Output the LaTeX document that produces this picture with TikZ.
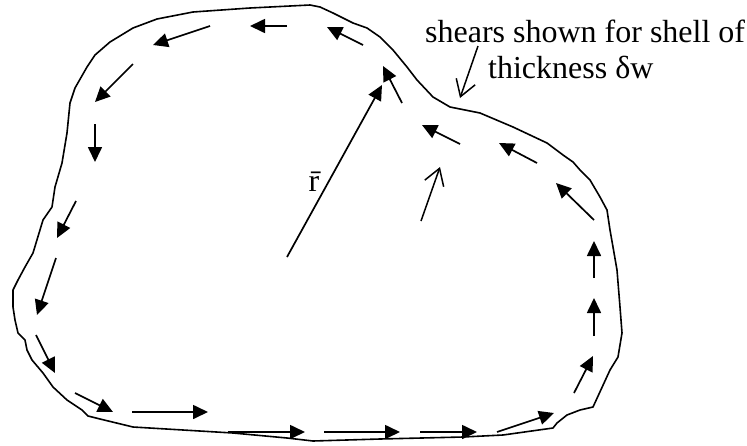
\documentclass[tikz,border=0pt]{standalone}
\usepackage{fontspec}
\setmainfont{Liberation Serif}
\usetikzlibrary{arrows.meta}

\tikzset{
  shell/.style={line width=1.6pt, line join=round},
  shear/.style={-{Triangle[length=15pt,width=14pt]}, line width=1.7pt},
  pointer/.style={-{Straight Barb[length=16pt,width=20pt]}, line width=1.5pt},
}

\begin{document}
\begin{tikzpicture}[x=1pt,y=-1pt]
                \useasboundingbox (0,0) rectangle (747,445);
                % Shell outline:
                \draw[shell] (33,253) -- (43,220) -- (52,207) -- (55,187) -- (62,163) -- (67,133)
                    -- (70,103) -- (75,88) -- (87,67) -- (95,55) -- (110,42) -- (133,28) -- (157,19)
                    -- (193,12) -- (250,8) -- (310,5) -- (320,7) -- (333,13) -- (353,23) -- (367,28)
                    -- (380,37) -- (393,50) -- (407,67) -- (417,80) -- (433,97) -- (450,107) -- (480,113)
                    -- (513,127) -- (547,143) -- (563,155) -- (573,162) -- (580,170) -- (590,180)
                    -- (600,197) -- (607,210) -- (610,230) -- (613,247) -- (617,270) -- (620,307)
                    -- (622,333) -- (618,357) -- (610,370) -- (593,407) -- (580,410) -- (567,415)
                    -- (557,423) -- (553,428) -- (503,435) -- (463,437) -- (380,439) -- (313,441)
                    -- (287,438) -- (233,433) -- (133,427) -- (100,419) -- (88,416) -- (82,410)
                    -- (67,400) -- (53,387) -- (43,373) -- (32,360) -- (27,350) -- (25,340) -- (18,333)
                    -- (15,320) -- (13,307) -- (13,290) -- (18,280) -- (25,267) -- cycle;
                % Shear flow:
                \foreach \xa/\ya/\xb/\yb in {363/45/327/27, 287/26/250/26, 210/26/153/45,
                    133/64/95/102, 95/124/95/162, 76/201/57/238, 56/258/37/315,
                    36/335/55/373, 75/393/113/412, 132/412/208/412, 228/432/305/432,
                    324/432/400/432, 420/432/477/432, 497/432/554/413, 574/393/593/356,
                    594/336/594/298, 594/278/594/241, 594/220/556/183, 537/163/499/143,
                    460/144/422/125, 402/103/383/66}
                    \draw[shear] (\xa,\ya) -- (\xb,\yb);
                % Radius vector:
                \coordinate (origin) at (287,257);
                \coordinate (rtip) at (382,85);
                \draw[shear] (origin) -- (rtip);
                \node[anchor=base, inner sep=0] (rbar) at (314,191) {\fontsize{32}{36}\selectfont\={r}};
                \coordinate (otail) at (421,221);
                \coordinate (otip) at (440,167);
                \draw[pointer] (otail) -- (otip);
                % Label:
                \node[anchor=base west, inner sep=0] (line1) at (425,42)
                    {\fontsize{32}{36}\selectfont shears shown for shell of};
                \node[anchor=base west, inner sep=0] (line2) at (488,78)
                    {\fontsize{32}{36}\selectfont thickness δw};
                \coordinate (ptail) at (478,46);
                \coordinate (ptip) at (460,98);
                \draw[pointer] (ptail) -- (ptip);
            \end{tikzpicture}
\end{document}
